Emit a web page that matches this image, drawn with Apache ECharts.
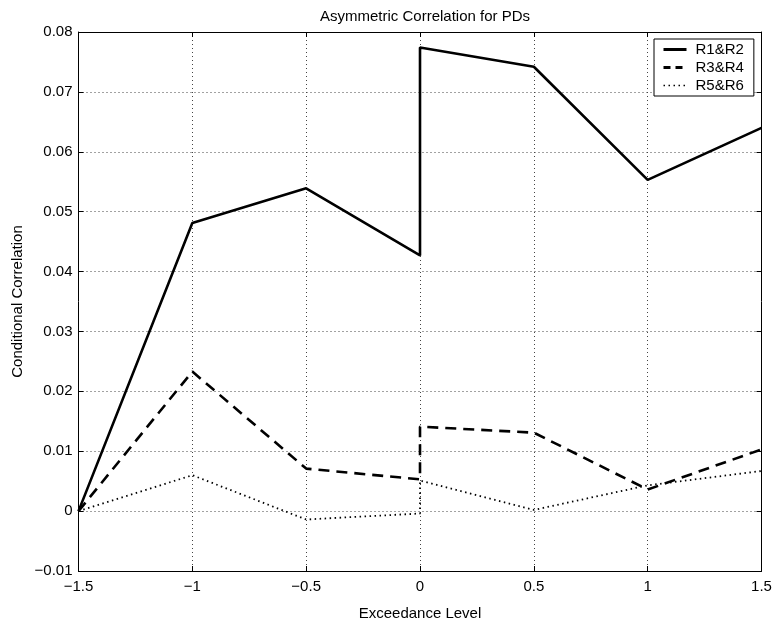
<!DOCTYPE html>
<html>
<head>
<meta charset="utf-8">
<script src="https://cdn.jsdelivr.net/npm/echarts@6/dist/echarts.min.js"></script>
<style>
  html, body { margin: 0; padding: 0; background: #fff; }
  #chart { width: 775px; height: 626px; }
</style>
</head>
<body>
<div id="chart"></div>
<script>
// exceedance levels (0 appears twice: value just below / above)
const levels = [-1.5, -1, -0.5, 0, 0, 0.5, 1, 1.5]
const r12 = [0, 0.0481, 0.0539, 0.0427, 0.0774, 0.0742, 0.0553, 0.0640]
const r34 = [0, 0.0233, 0.0071, 0.0053, 0.0141, 0.0131, 0.0036, 0.0103]
const r56 = [0, 0.0060, -0.0014, -0.0004, 0.0051, 0.0002, 0.0043, 0.0067]
const seriesNames = ['R1&R2', 'R3&R4', 'R5&R6']

const FONT = 'Liberation Sans, Arial, Helvetica, sans-serif'
const pairs = ys => levels.map((x, i) => [x, ys[i]])
const minus = s => String(s).replace('-', '\u2212')

const gridDot = { show: true, lineStyle: { color: '#444', type: [1, 3], width: 1 } }
const baseAxis = {
  axisLine: { show: true, onZero: false, lineStyle: { color: '#000', width: 1 } },
  axisTick: { show: true, inside: true, length: 5, lineStyle: { color: '#000' } },
}

const c = echarts.init(document.getElementById('chart'))
c.setOption({
  animation: false,
  textStyle: { fontFamily: FONT },
  title: {
    text: 'Asymmetric Correlation for PDs',
    left: 420, top: 4, textAlign: 'center',
    textStyle: { fontSize: 15, fontWeight: 'normal', color: '#000', fontFamily: FONT },
  },
  grid: { left: 78.5, right: 13.5, top: 32, bottom: 55, containLabel: false },
  legend: {
    orient: 'vertical', left: 654, top: 39,
    backgroundColor: '#fff', borderColor: '#000', borderWidth: 1, borderRadius: 0,
    padding: [3, 10, 3, 8], itemGap: 3, itemWidth: 23, itemHeight: 14,
    itemStyle: { opacity: 0, borderWidth: 0 },
    textStyle: { fontSize: 15, color: '#000', fontFamily: FONT, padding: [0, 0, 0, 4] },
    data: [
      { name: seriesNames[0], lineStyle: { width: 3 } },
      { name: seriesNames[1], lineStyle: { width: 3, type: [7, 5] } },
      { name: seriesNames[2], lineStyle: { width: 1.5, type: [1.5, 3.5] } },
    ],
  },
  xAxis: [
    {
      ...baseAxis, type: 'value', min: -1.5, max: 1.5, interval: 0.5,
      name: 'Exceedance Level', nameLocation: 'middle', nameGap: 35, nameMoveOverlap: false,
      nameTextStyle: { fontSize: 15, color: '#000', fontFamily: FONT },
      axisLabel: { fontSize: 15, color: '#000', margin: 8, formatter: v => minus(v) },
      splitLine: gridDot,
    },
    {
      ...baseAxis, type: 'value', position: 'top', min: -1.5, max: 1.5, interval: 0.5,
      axisLabel: { show: false }, splitLine: { show: false },
    },
  ],
  yAxis: [
    {
      ...baseAxis, type: 'value', min: -0.01, max: 0.08, interval: 0.01,
      name: 'Conditional Correlation', nameLocation: 'middle', nameGap: 53, nameMoveOverlap: false,
      nameTextStyle: { fontSize: 15, color: '#000', fontFamily: FONT },
      axisLabel: {
        fontSize: 15, color: '#000', margin: 6,
        formatter: v => minus(Number(v.toFixed(2)))
      },
      splitLine: gridDot,
    },
    {
      ...baseAxis, type: 'value', position: 'right', min: -0.01, max: 0.08, interval: 0.01,
      axisLabel: { show: false }, splitLine: { show: false },
    },
  ],
  series: [
    {
      name: seriesNames[0], type: 'line', data: pairs(r12), symbol: 'none',
      lineStyle: { color: '#000', width: 2.6, type: 'solid' },
      itemStyle: { color: '#000' }, z: 5,
    },
    {
      name: seriesNames[1], type: 'line', data: pairs(r34), symbol: 'none',
      lineStyle: { color: '#000', width: 2.6, type: [11, 7] },
      itemStyle: { color: '#000' }, z: 4,
    },
    {
      name: seriesNames[2], type: 'line', data: pairs(r56), symbol: 'none',
      lineStyle: { color: '#000', width: 1.8, type: [1.5, 3.5] },
      itemStyle: { color: '#000' }, z: 3,
    },
  ],
})
</script>
</body>
</html>
